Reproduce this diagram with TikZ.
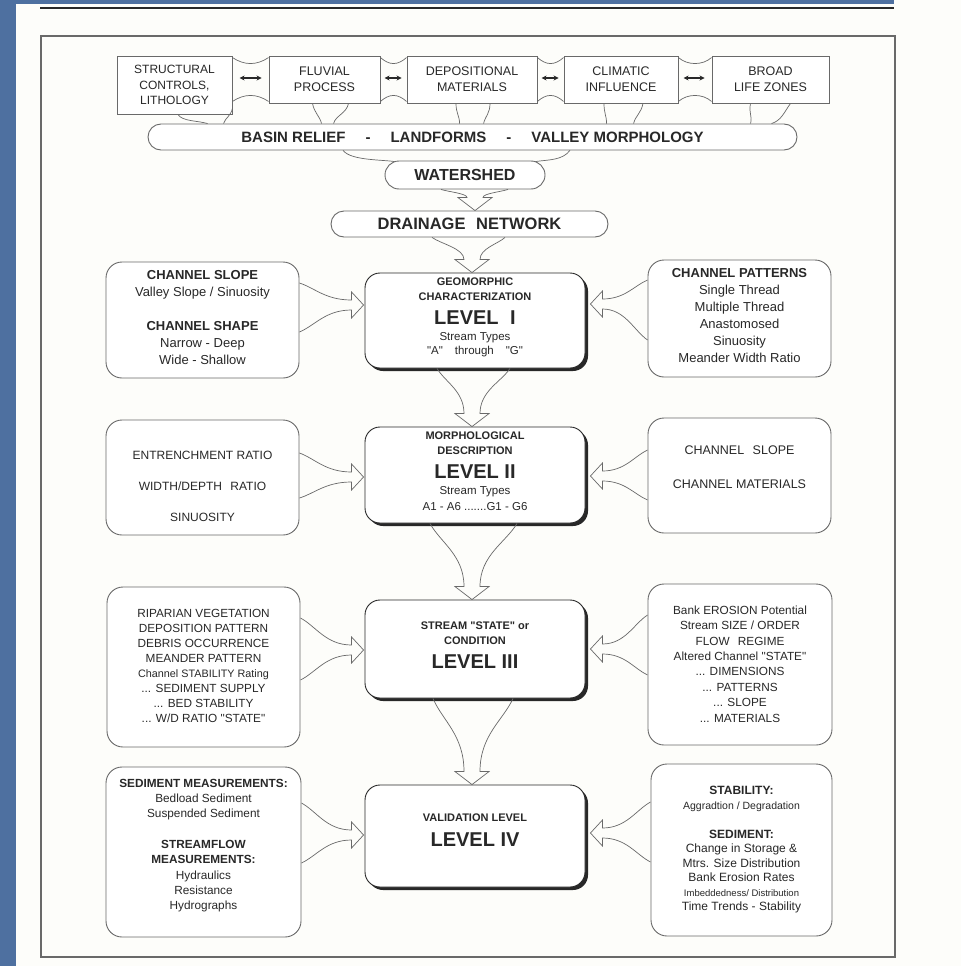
\documentclass[tikz,border=0pt]{standalone}
\usepackage{fontspec}
\setmainfont{Liberation Sans}[Ligatures=TeXOff]
\usetikzlibrary{calc,shadows,arrows.meta}
\definecolor{bgblue}{RGB}{78,112,160}
\definecolor{ink}{RGB}{40,40,40}
\definecolor{edgec}{RGB}{105,105,105}
\definecolor{paper}{RGB}{253,253,250}
\newcommand{\setfs}[2]{\fontsize{#1}{#2}\selectfont}
% vertical flow arrow: #1 upper node, #2 lower node, #3 left start dx, #4 right start dx, #5 tip dx
\newcommand{\vflow}[5]{%
  \coordinate (va) at ($(#1.south)+(#3,0)$);
  \coordinate (vb) at ($(#1.south)+(#4,0)$);
  \coordinate (vt) at ($(#2.north)+(#5,0)$);
  \coordinate (vh) at ($(vt)+(0,-13)$);
  \coordinate (vsl) at ($(vh)+(-8,0)$);
  \coordinate (vsr) at ($(vh)+(8,0)$);
  \coordinate (vml) at ($(va)!0.5!(vsl)$);
  \coordinate (vmr) at ($(vb)!0.5!(vsr)$);
  \draw[flow] (va) .. controls ($(va)!0.3!(vsl)$) and (vsl |- vml) .. (vsl)
    -- ($(vh)+(-17,0)$) -- (vt) -- ($(vh)+(17,0)$) -- (vsr)
    .. controls (vsr |- vmr) and ($(vb)!0.3!(vsr)$) .. (vb);}
% horizontal flow arrow: #1 side anchor, #2 dyA, #3 dyB, #4 main anchor, #5 tip dx, #6 tip dy, #7 dir
\newcommand{\hflow}[7]{%
  \coordinate (ha) at ($(#1)+(0,#2)$);
  \coordinate (hb) at ($(#1)+(0,#3)$);
  \coordinate (ht) at ($(#4)+(#5,#6)$);
  \coordinate (hh) at ($(ht)+({-12*(#7)},0)$);
  \coordinate (hu) at ($(hh)+(0,-5)$);
  \coordinate (hl) at ($(hh)+(0,5)$);
  \coordinate (hmu) at ($(ha)!0.5!(hu)$);
  \coordinate (hml) at ($(hb)!0.5!(hl)$);
  \draw[flow] (ha) .. controls ($(ha)!0.3!(hu)$) and (hmu |- hu) .. (hu)
    -- ($(hh)+(0,-13)$) -- (ht) -- ($(hh)+(0,13)$) -- (hl)
    .. controls (hml |- hl) and ($(hb)!0.3!(hl)$) .. (hb);}
\begin{document}
\begin{tikzpicture}[x=1pt,y=-1pt,
  tbox/.style={draw=edgec, line width=0.9pt, fill=white, inner sep=0pt, text=ink, align=center, font=\setfs{12.5}{16}},
  sbox/.style={draw=edgec, line width=0.9pt, fill=white, rounded corners=16pt, inner sep=0pt},
  mbox/.style={draw=ink, line width=0.9pt, fill=white, rounded corners=15pt, inner sep=0pt,
     drop shadow={shadow xshift=3pt, shadow yshift=-3pt, opacity=1, fill=ink}},
  pill/.style={draw=edgec, line width=0.9pt, fill=white, rounded corners=13pt, inner sep=0pt, text=ink},
  txt/.style={text=ink, align=center, inner sep=0pt},
  flow/.style={draw=edgec, line width=0.7pt},
  dbl/.style={{Stealth[length=5pt,width=5pt]}-{Stealth[length=5pt,width=5pt]}, line width=1.3pt, draw=ink},
]
\useasboundingbox (0,0) rectangle (961,966);
\fill[bgblue] (0,0) rectangle (961,966);
\fill[paper] (16,4) rectangle (961,966);
\fill[paper] (894,0) rectangle (961,4);
\draw[line width=2pt, ink] (40,8) -- (894,8);
\draw[line width=1.1pt, edgec] (41,36) rectangle (895,957);

% top row
\node[tbox, minimum width=115pt, minimum height=58pt, font=\setfs{12}{15.5}] (T1) at (174.5,85) {STRUCTURAL\\CONTROLS,\\LITHOLOGY};
\node[tbox, minimum width=111pt, minimum height=47pt] (T2) at (324.5,79.5) {FLUVIAL\\PROCESS};
\node[tbox, minimum width=130pt, minimum height=47pt] (T3) at (472,79.5) {DEPOSITIONAL\\MATERIALS};
\node[tbox, minimum width=114pt, minimum height=47pt] (T4) at (621,79.5) {CLIMATIC\\INFLUENCE};
\node[tbox, minimum width=117pt, minimum height=47pt] (T5) at (770.5,79.5) {BROAD\\LIFE ZONES};

% bridges between top boxes
\draw[flow] ($(T1.north east)+(0,2)$) .. controls +(12,8) and +(-12,8) .. ($(T2.north west)+(0,2)$);
\draw[flow] ($(T1.south east)+(0,-13)$) .. controls +(12,-8) and +(-12,-8) .. ($(T2.south west)+(0,-2)$);
\foreach \a/\b in {T2/T3,T3/T4,T4/T5}{
  \draw[flow] ($(\a.north east)+(0,2)$) .. controls +(9,8) and +(-9,8) .. ($(\b.north west)+(0,2)$);
  \draw[flow] ($(\a.south east)+(0,-2)$) .. controls +(9,-8) and +(-9,-8) .. ($(\b.south west)+(0,-2)$);
}
\draw[dbl] ($(T2.west)+(-29,-1.5)$) -- ($(T2.west)+(-7,-1.5)$);
\draw[dbl] ($(T3.west)+(-22,-1.5)$) -- ($(T3.west)+(-5,-1.5)$);
\draw[dbl] ($(T4.west)+(-22,-1.5)$) -- ($(T4.west)+(-5,-1.5)$);
\draw[dbl] ($(T5.west)+(-28,-1.5)$) -- ($(T5.west)+(-7,-1.5)$);

% basin relief bar, watershed, drainage network
\node[pill, minimum width=649pt, minimum height=26pt, font=\setfs{15}{15}\bfseries] (BR) at (472.5,137)
  {BASIN RELIEF\hspace{20pt}-\hspace{20pt}LANDFORMS\hspace{20pt}-\hspace{20pt}VALLEY MORPHOLOGY};
\node[pill, minimum width=160pt, minimum height=28pt, rounded corners=14pt, font=\setfs{16}{16}\bfseries] (WS) at (465,175) {WATERSHED};
\node[pill, minimum width=277pt, minimum height=26pt, font=\setfs{16.5}{16.5}\bfseries] (DN) at (469.5,224) {DRAINAGE\hspace{6pt} NETWORK};

% top boxes to bar
\draw[flow] ($(T1.south)+(3.5,0)$) .. controls +(4,7) and +(-10,-3) .. ($(BR.north west)+(60,0)$);
\draw[flow] ($(T1.south east)+(0,-6)$) .. controls +(-2,8) and +(2,-6) .. ($(BR.north west)+(76,0)$);
\draw[flow] ($(T2.south)+(-12,0)$) .. controls +(2,10) and +(-2,-8) .. ($(BR.north west)+(174,0)$);
\draw[flow] ($(T2.south)+(24,0)$) .. controls +(-2,10) and +(2,-8) .. ($(BR.north west)+(186,0)$);
\draw[flow] ($(T3.south)+(-16,0)$) .. controls +(0,10) and +(0,-8) .. ($(BR.north west)+(312,0)$);
\draw[flow] ($(T3.south)+(18,0)$) .. controls +(0,10) and +(2,-8) .. ($(BR.north west)+(336,0)$);
\draw[flow] ($(T4.south)+(-17,0)$) .. controls +(0,10) and +(0,-8) .. ($(BR.north west)+(459,0)$);
\draw[flow] ($(T4.south)+(22,0)$) .. controls +(-2,10) and +(2,-8) .. ($(BR.north west)+(486,0)$);
\draw[flow] ($(T5.south)+(-20,0)$) .. controls +(-2,10) and +(2,-8) .. ($(BR.north west)+(603,0)$);
\draw[flow] ($(T5.south)+(20,0)$) .. controls +(-6,8) and +(10,-3) .. ($(BR.north west)+(624,0)$);

% bar to watershed
\draw[flow] ($(BR.south)+(-129.5,0)$) .. controls +(8,10) and +(-14,-2) .. ($(WS.north west)+(10,1)$);
\draw[flow] ($(BR.south)+(97.5,0)$) .. controls +(-8,10) and +(14,-2) .. ($(WS.north east)+(-10,1)$);

% flows down the centre
\vflow{WS}{DN}{-24}{43}{5.5}
% main boxes
\node[mbox, minimum width=220pt, minimum height=95pt] (M1) at (475,320.5) {};
\node[mbox, minimum width=220pt, minimum height=96pt] (M2) at (475,475) {};
\node[mbox, minimum width=220pt, minimum height=98pt] (M3) at (475,649) {};
\node[mbox, minimum width=220pt, minimum height=102pt] (M4) at (475,836) {};
\vflow{DN}{M1}{-37.5}{35.5}{-3}
\vflow{M1}{M2}{-38}{35}{-3}
\vflow{M2}{M3}{-45}{42}{-3}
\vflow{M3}{M4}{-42}{38}{-3}

% main box texts
\node[txt, anchor=base, font=\setfs{11}{11}\bfseries] (m1a) at (475,285) {GEOMORPHIC};
\node[txt, anchor=base, font=\setfs{11}{11}\bfseries] (m1b) at (475,300) {CHARACTERIZATION};
\node[txt, anchor=base, font=\setfs{20}{20}\bfseries] (m1c) at (475,324) {LEVEL\hspace{6pt} I};
\node[txt, anchor=base, font=\setfs{11.5}{11.5}] (m1d) at (475,340) {Stream Types};
\node[txt, anchor=base, font=\setfs{11.5}{11.5}] (m1e) at (475,354) {"A"\hspace{12pt}through\hspace{12pt}"G"};

\node[txt, anchor=base, font=\setfs{11}{11}\bfseries] (m2a) at (475,439) {MORPHOLOGICAL};
\node[txt, anchor=base, font=\setfs{11}{11}\bfseries] (m2b) at (475,454) {DESCRIPTION};
\node[txt, anchor=base, font=\setfs{20}{20}\bfseries] (m2c) at (475,478) {LEVEL II};
\node[txt, anchor=base, font=\setfs{11.5}{11.5}] (m2d) at (475,494) {Stream Types};
\node[txt, anchor=base, font=\setfs{11.5}{11.5}] (m2e) at (475,510) {A1 - A6 .......G1 - G6};

\node[txt, anchor=base, font=\setfs{11}{11}\bfseries] (m3a) at (475,629) {STREAM "STATE" or};
\node[txt, anchor=base, font=\setfs{11}{11}\bfseries] (m3b) at (475,644) {CONDITION};
\node[txt, anchor=base, font=\setfs{20}{20}\bfseries] (m3c) at (475,668) {LEVEL III};

\node[txt, anchor=base, font=\setfs{11}{11}\bfseries] (m4a) at (475,821) {VALIDATION LEVEL};
\node[txt, anchor=base, font=\setfs{20}{20}\bfseries] (m4b) at (475,846) {LEVEL IV};

% side boxes
\node[sbox, minimum width=193pt, minimum height=116pt] (L1) at (202.5,320) {};
\node[sbox, minimum width=193pt, minimum height=115pt] (L2) at (202.5,477.5) {};
\node[sbox, minimum width=193pt, minimum height=160pt] (L3) at (203.5,667) {};
\node[sbox, minimum width=195pt, minimum height=170pt] (L4) at (203.5,852) {};
\node[sbox, minimum width=183pt, minimum height=117pt] (R1) at (739.5,318.5) {};
\node[sbox, minimum width=183pt, minimum height=115pt] (R2) at (739.5,475.5) {};
\node[sbox, minimum width=184pt, minimum height=161pt] (R3) at (740,664.5) {};
\node[sbox, minimum width=181pt, minimum height=172pt] (R4) at (741.5,850) {};

\node[txt, font=\setfs{13}{17}] (L1t) at (202.5,317.5)
  {\textbf{CHANNEL SLOPE}\\Valley Slope / Sinuosity\\[17pt]\textbf{CHANNEL SHAPE}\\Narrow - Deep\\Wide - Shallow};
\node[txt, font=\setfs{13}{17}] (R1t) at (739.5,315.5)
  {\textbf{CHANNEL PATTERNS}\\Single Thread\\Multiple Thread\\Anastomosed\\Sinuosity\\Meander Width Ratio};
\node[txt, font=\setfs{12}{31}] (L2t) at (202.5,486)
  {ENTRENCHMENT RATIO\\WIDTH/DEPTH\hspace{5pt} RATIO\\SINUOSITY};
\node[txt, font=\setfs{12.5}{34}] (R2t) at (739.5,467)
  {CHANNEL\hspace{5pt} SLOPE\\CHANNEL MATERIALS};
\node[txt, font=\setfs{11.8}{15}] (L3t) at (203.5,665.5)
  {RIPARIAN VEGETATION\\DEPOSITION PATTERN\\DEBRIS OCCURRENCE\\MEANDER PATTERN\\{\setfs{10.8}{15}Channel STABILITY Rating}\\... SEDIMENT SUPPLY\\... BED STABILITY\\... W/D RATIO "STATE"};
\node[txt, font=\setfs{11.8}{15.4}] (R3t) at (740,664)
  {Bank EROSION Potential\\Stream SIZE / ORDER\\FLOW\hspace{5pt} REGIME\\Altered Channel "STATE"\\... DIMENSIONS\\... PATTERNS\\... SLOPE\\... MATERIALS};
\node[txt, font=\setfs{11.8}{15.3}] (L4t) at (203.5,845.5)
  {\textbf{SEDIMENT MEASUREMENTS:}\\Bedload Sediment\\Suspended Sediment\\[15.3pt]\textbf{STREAMFLOW}\\\textbf{MEASUREMENTS:}\\Hydraulics\\Resistance\\Hydrographs};
\node[txt, font=\setfs{12}{14.5}] (R4t) at (741.5,850)
  {\textbf{STABILITY:}\\{\setfs{10.5}{14.5}Aggradtion / Degradation}\\[14.5pt]\textbf{SEDIMENT:}\\Change in Storage \&\\Mtrs. Size Distribution\\Bank Erosion Rates\\{\setfs{9.5}{14.5}Imbeddedness/ Distribution}\\Time Trends - Stability};

% side arrows
\hflow{L1.east}{-37}{12}{M1.west}{-1}{-15.5}{1}
\hflow{L2.east}{-24.5}{20.5}{M2.west}{-1}{2}{1}
\hflow{L3.east}{-49}{13}{M3.west}{-1}{1}{1}
\hflow{L4.east}{-49}{11}{M4.west}{-1}{-1}{1}
\hflow{R1.west}{-38.5}{21.5}{M1.east}{5}{-16.5}{-1}
\hflow{R2.west}{-25.5}{24.5}{M2.east}{5}{1}{-1}
\hflow{R3.west}{-49.5}{10.5}{M3.east}{5}{0}{-1}
\hflow{R4.west}{-48}{12}{M4.east}{5}{-3}{-1}
\end{tikzpicture}
\end{document}
